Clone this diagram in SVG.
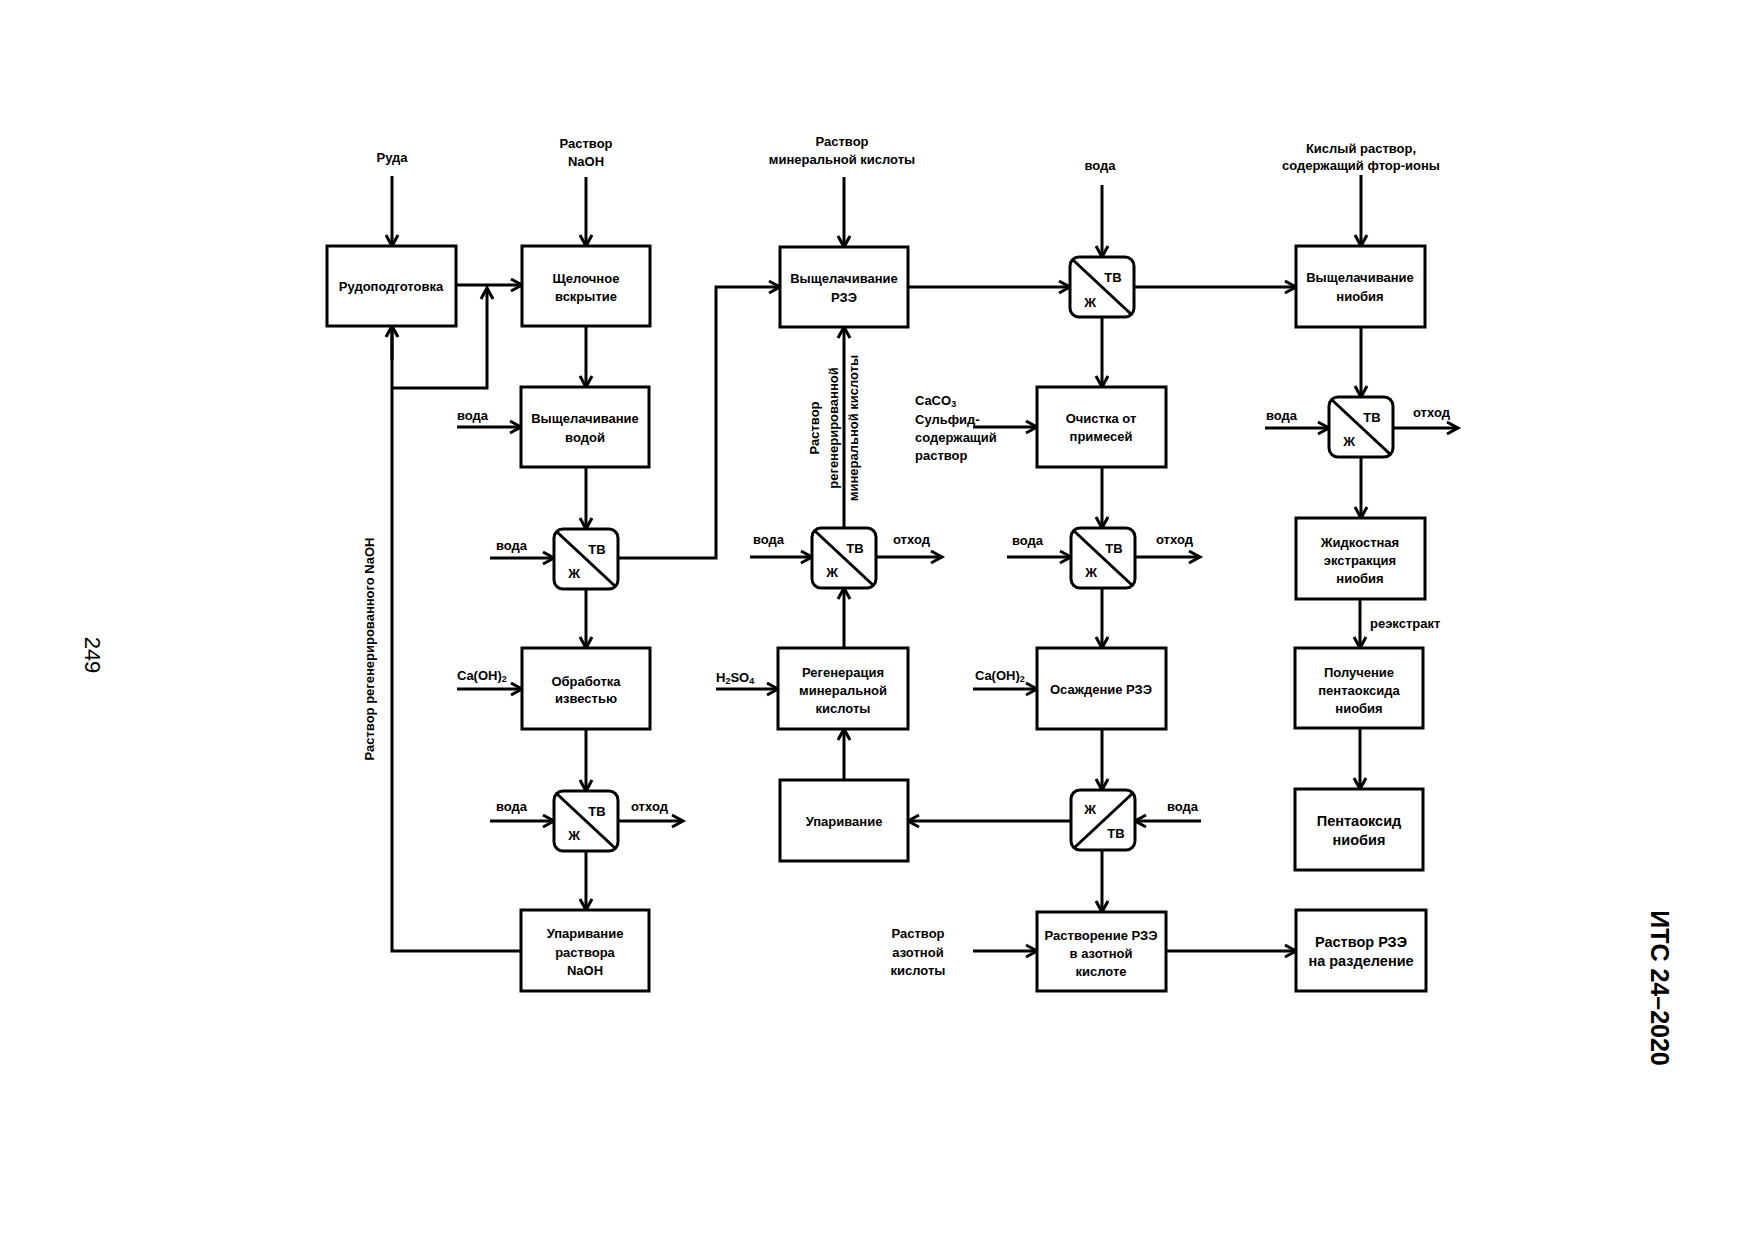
<svg xmlns="http://www.w3.org/2000/svg" width="1754" height="1240" viewBox="0 0 1754 1240">
<style>
.box{fill:#fff;stroke:#000;stroke-width:3}
.flt{fill:#fff;stroke:#000;stroke-width:3}
.dg{stroke:#000;stroke-width:3}
.ln{fill:none;stroke:#000;stroke-width:3}
.ar{fill:none;stroke:#000;stroke-width:3;marker-end:url(#ah)}
text{font-family:"Liberation Sans",Arial,sans-serif;font-weight:bold;font-size:13px;fill:#000;dominant-baseline:central}
.c{text-anchor:middle}
.big{font-size:14.5px}
</style>
<defs>
<marker id="ah" markerUnits="userSpaceOnUse" markerWidth="16" markerHeight="16" viewBox="0 0 16 16" refX="13" refY="8" orient="auto" overflow="visible">
<path d="M2,2 L13,8 L2,14" fill="none" stroke="#000" stroke-width="3"/>
</marker>
</defs>
<rect width="1754" height="1240" fill="#fff"/>

<g id="connectors">
<line class="ar" x1="392" y1="176" x2="392" y2="246"/>
<line class="ar" x1="586" y1="177" x2="586" y2="246"/>
<line class="ar" x1="456" y1="285" x2="522" y2="285"/>
<path class="ln" d="M521,951 H392 V330"/>
<line class="ar" x1="392" y1="360" x2="392" y2="326"/>
<path class="ar" d="M392,388 H487 V288"/>
<line class="ar" x1="586" y1="326" x2="586" y2="387"/>
<line class="ar" x1="457" y1="427" x2="521" y2="427"/>
<line class="ar" x1="586" y1="467" x2="586" y2="529"/>
<line class="ar" x1="490" y1="558" x2="554" y2="558"/>
<path class="ar" d="M618,558 H716 V287 H780"/>
<line class="ar" x1="586" y1="589" x2="586" y2="648"/>
<line class="ar" x1="457" y1="689" x2="522" y2="689"/>
<line class="ar" x1="586" y1="729" x2="586" y2="791"/>
<line class="ar" x1="490" y1="821" x2="554" y2="821"/>
<line class="ar" x1="618" y1="821" x2="683" y2="821"/>
<line class="ar" x1="586" y1="851" x2="586" y2="910"/>
<line class="ar" x1="844" y1="177" x2="844" y2="247"/>
<line class="ar" x1="908" y1="287" x2="1070" y2="287"/>
<line class="ar" x1="1102" y1="185" x2="1102" y2="257"/>
<line class="ar" x1="1134" y1="287" x2="1296" y2="287"/>
<line class="ar" x1="1102" y1="317" x2="1102" y2="387"/>
<line class="ar" x1="973" y1="427" x2="1037" y2="427"/>
<line class="ar" x1="1102" y1="467" x2="1102" y2="528"/>
<line class="ar" x1="1007" y1="557" x2="1071" y2="557"/>
<line class="ar" x1="1135" y1="557" x2="1200" y2="557"/>
<line class="ar" x1="1102" y1="588" x2="1102" y2="648"/>
<line class="ar" x1="973" y1="689" x2="1037" y2="689"/>
<line class="ar" x1="1102" y1="729" x2="1102" y2="790"/>
<line class="ar" x1="1201" y1="821" x2="1135" y2="821"/>
<line class="ar" x1="1071" y1="821" x2="908" y2="821"/>
<line class="ar" x1="1102" y1="850" x2="1102" y2="912"/>
<line class="ar" x1="973" y1="951" x2="1037" y2="951"/>
<line class="ar" x1="1166" y1="951" x2="1296" y2="951"/>
<line class="ar" x1="844" y1="780" x2="844" y2="729"/>
<line class="ar" x1="716" y1="689" x2="778" y2="689"/>
<line class="ar" x1="844" y1="648" x2="844" y2="588"/>
<line class="ar" x1="750" y1="557" x2="812" y2="557"/>
<line class="ar" x1="877" y1="557" x2="942" y2="557"/>
<line class="ar" x1="844" y1="528" x2="844" y2="327"/>
<line class="ar" x1="1361" y1="175" x2="1361" y2="246"/>
<line class="ar" x1="1361" y1="327" x2="1361" y2="397"/>
<line class="ar" x1="1265" y1="428" x2="1329" y2="428"/>
<line class="ar" x1="1393" y1="428" x2="1458" y2="428"/>
<line class="ar" x1="1361" y1="457" x2="1361" y2="518"/>
<line class="ar" x1="1360" y1="599" x2="1360" y2="648"/>
<line class="ar" x1="1360" y1="728" x2="1360" y2="789"/>
</g>

<g id="n_rudopodgotovka"><rect class="box" x="327" y="246" width="129" height="80"/><text class="c" x="391" y="286">Рудоподготовка</text></g>
<g id="n_shchelochnoe"><rect class="box" x="522" y="246" width="128" height="80"/><text class="c" x="586" y="278">Щелочное</text><text class="c" x="586" y="296">вскрытие</text></g>
<g id="n_vysh_vodoy"><rect class="box" x="521" y="387" width="128" height="80"/><text class="c" x="585" y="418">Выщелачивание</text><text class="c" x="585" y="437">водой</text></g>
<g id="n_obrabotka"><rect class="box" x="522" y="648" width="128" height="81"/><text class="c" x="586" y="681">Обработка</text><text class="c" x="586" y="698">известью</text></g>
<g id="n_uparivanie_naoh"><rect class="box" x="521" y="910" width="128" height="81"/><text class="c" x="585" y="933">Упаривание</text><text class="c" x="585" y="952">раствора</text><text class="c" x="585" y="970">NaOH</text></g>
<g id="n_vysh_rze"><rect class="box" x="780" y="247" width="128" height="80"/><text class="c" x="844" y="278">Выщелачивание</text><text class="c" x="844" y="297">РЗЭ</text></g>
<g id="n_regeneraciya"><rect class="box" x="778" y="648" width="130" height="81"/><text class="c" x="843" y="672">Регенерация</text><text class="c" x="843" y="690">минеральной</text><text class="c" x="843" y="708">кислоты</text></g>
<g id="n_uparivanie"><rect class="box" x="780" y="780" width="128" height="81"/><text class="c" x="844" y="821">Упаривание</text></g>
<g id="n_ochistka"><rect class="box" x="1037" y="387" width="129" height="80"/><text class="c" x="1101" y="418">Очистка от</text><text class="c" x="1101" y="436">примесей</text></g>
<g id="n_osazhdenie"><rect class="box" x="1037" y="648" width="129" height="81"/><text class="c" x="1101" y="689">Осаждение РЗЭ</text></g>
<g id="n_rastvorenie"><rect class="box" x="1037" y="912" width="129" height="79"/><text class="c" x="1101" y="935">Растворение РЗЭ</text><text class="c" x="1101" y="953">в азотной</text><text class="c" x="1101" y="971">кислоте</text></g>
<g id="n_vysh_niobiya"><rect class="box" x="1296" y="246" width="129" height="81"/><text class="c" x="1360" y="277">Выщелачивание</text><text class="c" x="1360" y="296">ниобия</text></g>
<g id="n_zhidkostnaya"><rect class="box" x="1296" y="518" width="129" height="81"/><text class="c" x="1360" y="542">Жидкостная</text><text class="c" x="1360" y="560">экстракция</text><text class="c" x="1360" y="578">ниобия</text></g>
<g id="n_poluchenie"><rect class="box" x="1295" y="648" width="128" height="80"/><text class="c" x="1359" y="672">Получение</text><text class="c" x="1359" y="690">пентаоксида</text><text class="c" x="1359" y="708">ниобия</text></g>
<g id="n_pentaoksid"><rect class="box" x="1295" y="789" width="128" height="81"/><text class="c big" x="1359" y="821">Пентаоксид</text><text class="c big" x="1359" y="840">ниобия</text></g>
<g id="n_rastvor_rze"><rect class="box" x="1296" y="910" width="130" height="81"/><text class="c big" x="1361" y="942">Раствор РЗЭ</text><text class="c big" x="1361" y="961">на разделение</text></g>

<g id="f1"><rect class="flt" x="554" y="529" width="64" height="60" rx="9"/><line class="dg" x1="557" y1="532" x2="616" y2="587"/><text class="c" x="597" y="549">ТВ</text><text class="c" x="574" y="573">Ж</text></g>
<g id="f2"><rect class="flt" x="554" y="791" width="64" height="60" rx="9"/><line class="dg" x1="557" y1="794" x2="616" y2="849"/><text class="c" x="597" y="811">ТВ</text><text class="c" x="574" y="835">Ж</text></g>
<g id="f3"><rect class="flt" x="1070" y="257" width="64" height="60" rx="9"/><line class="dg" x1="1073" y1="260" x2="1132" y2="315"/><text class="c" x="1113" y="277">ТВ</text><text class="c" x="1090" y="302">Ж</text></g>
<g id="f4"><rect class="flt" x="812" y="528" width="64" height="60" rx="9"/><line class="dg" x1="815" y1="531" x2="874" y2="586"/><text class="c" x="855" y="548">ТВ</text><text class="c" x="832" y="572">Ж</text></g>
<g id="f5"><rect class="flt" x="1071" y="528" width="64" height="60" rx="9"/><line class="dg" x1="1074" y1="531" x2="1133" y2="586"/><text class="c" x="1114" y="548">ТВ</text><text class="c" x="1091" y="572">Ж</text></g>
<g id="f6"><rect class="flt" x="1071" y="790" width="64" height="60" rx="9"/><line class="dg" x1="1074" y1="848" x2="1133" y2="793"/><text class="c" x="1090" y="809">Ж</text><text class="c" x="1116" y="833">ТВ</text></g>
<g id="f7"><rect class="flt" x="1329" y="397" width="64" height="60" rx="9"/><line class="dg" x1="1332" y1="400" x2="1391" y2="455"/><text class="c" x="1372" y="417">ТВ</text><text class="c" x="1349" y="441">Ж</text></g>

<g id="labels">
<text class="c" x="392" y="157">Руда</text>
<text class="c" x="586" y="143">Раствор</text>
<text class="c" x="586" y="161">NaOH</text>
<text class="c" x="842" y="141">Раствор</text>
<text class="c" x="842" y="159">минеральной кислоты</text>
<text class="c" x="1100" y="165">вода</text>
<text class="c" x="1361" y="148">Кислый раствор,</text>
<text class="c" x="1361" y="165">содержащий фтор-ионы</text>
<text x="457" y="415">вода</text>
<text x="496" y="545">вода</text>
<text x="496" y="806">вода</text>
<text x="631" y="806">отход</text>
<text x="753" y="539">вода</text>
<text x="893" y="539">отход</text>
<text x="1012" y="540">вода</text>
<text x="1156" y="539">отход</text>
<text x="1167" y="806">вода</text>
<text x="1266" y="415">вода</text>
<text x="1413" y="412">отход</text>
<text x="457" y="675">Ca(OH)<tspan font-size="9" dy="4">2</tspan></text>
<text x="975" y="675">Ca(OH)<tspan font-size="9" dy="4">2</tspan></text>
<text x="716" y="677">H<tspan font-size="9" dy="4">2</tspan><tspan dy="-4">SO</tspan><tspan font-size="9" dy="4">4</tspan></text>
<text x="915" y="400">CaCO<tspan font-size="9" dy="4">3</tspan></text>
<text x="915" y="419">Сульфид-</text>
<text x="915" y="437">содержащий</text>
<text x="915" y="455">раствор</text>
<text class="c" x="918" y="933">Раствор</text>
<text class="c" x="918" y="952">азотной</text>
<text class="c" x="918" y="970">кислоты</text>
<text x="1370" y="623">реэкстракт</text>
<text class="c" transform="rotate(-90 369 649)" x="369" y="649">Раствор регенерированного NaOH</text>
<text class="c" transform="rotate(-90 814 428)" x="814" y="428">Раствор</text>
<text class="c" transform="rotate(-90 833 428)" x="833" y="428">регенерированной</text>
<text class="c" transform="rotate(-90 853 428)" x="853" y="428">минеральной кислоты</text>
<text class="c" transform="rotate(90 92 655)" x="92" y="655" style="font-weight:normal;font-size:22px">249</text>
<text class="c" transform="rotate(90 1660 988)" x="1660" y="988" style="font-size:25px">ИТС 24–2020</text>
</g>
</svg>
